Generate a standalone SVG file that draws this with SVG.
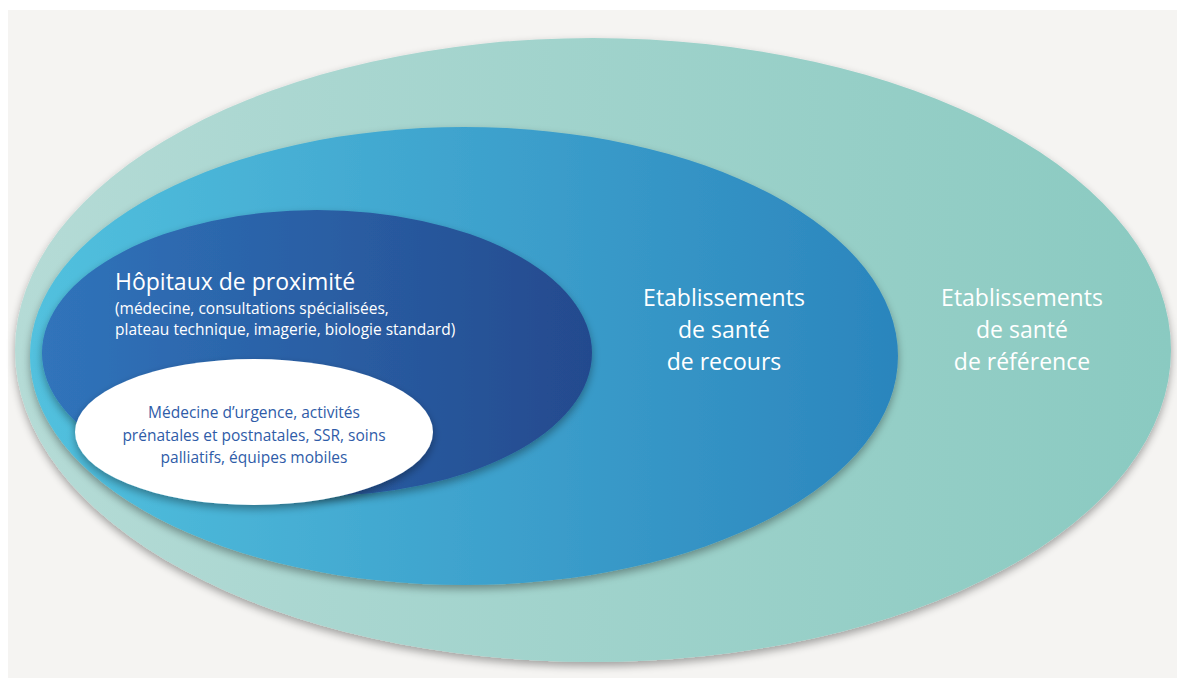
<svg xmlns="http://www.w3.org/2000/svg" width="1177" height="678" viewBox="0 0 1177 678">
<defs>
<linearGradient id="gOuter" x1="0" y1="0" x2="1" y2="0">
<stop offset="0" stop-color="#b5dbd6"/>
<stop offset="1" stop-color="#8acac1"/>
</linearGradient>
<linearGradient id="gMid" x1="0" y1="0" x2="1" y2="0">
<stop offset="0" stop-color="#52c1de"/>
<stop offset="1" stop-color="#2b85bd"/>
</linearGradient>
<linearGradient id="gDark" x1="0" y1="0" x2="1" y2="0">
<stop offset="0" stop-color="#3074bb"/>
<stop offset="1" stop-color="#244a8e"/>
</linearGradient>
<filter id="sh" x="-10%" y="-10%" width="120%" height="125%">
<feGaussianBlur in="SourceAlpha" stdDeviation="4"/>
<feOffset dx="0" dy="4" result="b"/>
<feComponentTransfer><feFuncA type="linear" slope="0.35"/></feComponentTransfer>
<feMerge><feMergeNode/><feMergeNode in="SourceGraphic"/></feMerge>
</filter>
<style>
.t{font-family:"Open Sans","Liberation Sans",sans-serif;}
.w{fill:#ffffff;}
.big{font-size:23px;}
.sm{font-size:15.5px;}
.blue{fill:#2f5ca8;}
</style>
</defs>
<rect x="0" y="0" width="1177" height="678" fill="#ffffff"/>
<rect x="8" y="10" width="1169" height="668" fill="#f5f4f2"/>
<g id="ref">
<ellipse cx="593" cy="350" rx="578" ry="312" fill="url(#gOuter)" filter="url(#sh)"/>
<text class="t w big" text-anchor="middle" x="1022" y="306">Etablissements</text>
<text class="t w big" text-anchor="middle" x="1022" y="338">de santé</text>
<text class="t w big" text-anchor="middle" x="1022" y="370">de référence</text>
</g>
<g id="recours">
<ellipse cx="464" cy="356" rx="434" ry="229" fill="url(#gMid)" filter="url(#sh)"/>
<text class="t w big" text-anchor="middle" x="724" y="306">Etablissements</text>
<text class="t w big" text-anchor="middle" x="724" y="338">de santé</text>
<text class="t w big" text-anchor="middle" x="724" y="370">de recours</text>
</g>
<g id="proximite">
<ellipse cx="317" cy="353" rx="275" ry="143" fill="url(#gDark)" filter="url(#sh)"/>
<text class="t w" x="115" y="290" font-size="23">Hôpitaux de proximité</text>
<text class="t w sm" x="115" y="314">(médecine, consultations spécialisées,</text>
<text class="t w sm" x="115" y="335">plateau technique, imagerie, biologie standard)</text>
</g>
<g id="services">
<ellipse cx="254" cy="432" rx="179" ry="73" fill="#ffffff" filter="url(#sh)"/>
<text class="t blue sm" text-anchor="middle" x="254" y="418">Médecine d’urgence, activités</text>
<text class="t blue sm" text-anchor="middle" x="254" y="441">prénatales et postnatales, SSR, soins</text>
<text class="t blue sm" text-anchor="middle" x="254" y="463">palliatifs, équipes mobiles</text>
</g>
<g id="connectors"/>
</svg>
